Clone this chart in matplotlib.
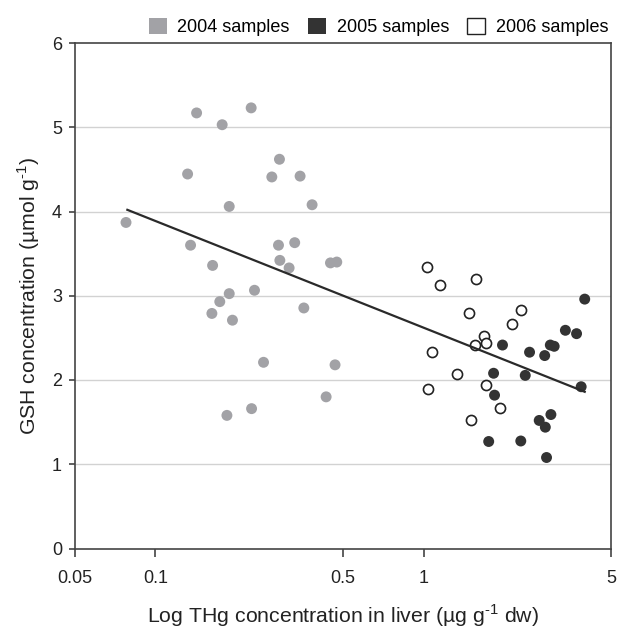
import matplotlib
matplotlib.use("Agg")
import matplotlib.pyplot as plt
from matplotlib.patches import Patch
from matplotlib.ticker import FixedLocator, FixedFormatter, NullLocator

plt.rcParams['font.family'] = ['Liberation Sans', 'DejaVu Sans']
plt.rcParams['mathtext.fontset'] = 'custom'
plt.rcParams['mathtext.rm'] = 'Liberation Sans'

# 2004 samples (gray)
x2004 = [0.1426, 0.1776, 0.2278, 0.2904, 0.132, 0.272, 0.3467, 0.1887, 0.3843, 0.0778,
         0.1354, 0.288, 0.331, 0.1636, 0.2914, 0.3155, 0.450, 0.475, 0.2344, 0.1887,
         0.174, 0.1626, 0.194, 0.358, 0.2533, 0.468, 0.4335, 0.2286, 0.185]
y2004 = [5.17, 5.03, 5.23, 4.62, 4.445, 4.41, 4.42, 4.06, 4.08, 3.87,
         3.60, 3.60, 3.63, 3.36, 3.42, 3.33, 3.39, 3.40, 3.065, 3.025,
         2.93, 2.79, 2.71, 2.855, 2.21, 2.18, 1.80, 1.66, 1.58]

# 2005 samples (dark)
x2005 = [3.99, 3.38, 3.72, 2.97, 3.07, 1.97, 2.485, 2.83, 1.825, 2.395,
         3.87, 1.84, 2.985, 2.70, 2.845, 1.75, 2.305, 2.875]
y2005 = [2.96, 2.59, 2.55, 2.415, 2.40, 2.415, 2.33, 2.29, 2.08, 2.055,
         1.92, 1.82, 1.59, 1.52, 1.44, 1.27, 1.276, 1.08]

# 2006 samples (open)
x2006 = [1.03, 1.149, 1.57, 1.477, 2.30, 2.135, 1.68, 1.705, 1.55, 1.072,
         1.33, 1.036, 1.705, 1.93, 1.50]
y2006 = [3.345, 3.13, 3.20, 2.79, 2.835, 2.66, 2.52, 2.44, 2.42, 2.33,
         2.075, 1.89, 1.94, 1.67, 1.52]

# trend line endpoints
trend_x = [0.0787, 3.99]
trend_y = [4.02, 1.86]

x_ticks = [0.05, 0.1, 0.5, 1, 5]
x_tick_labels = ['0.05', '0.1', '0.5', '1', '5']
y_ticks = [0, 1, 2, 3, 4, 5, 6]

gray = '#a2a2a6'
dark = '#333333'
axis_col = '#444444'
text_col = '#222222'

fig = plt.figure(figsize=(6.22, 6.30), dpi=100)
ax = fig.add_axes([74.5/622, 1-548.5/630, (611-74.5)/622, (548.5-43)/630])

ax.set_xscale('log')
ax.set_xlim(0.05, 5)
ax.set_ylim(0, 6)

for yv in [1, 2, 3, 4, 5]:
    ax.axhline(yv, color='#d2d2d2', lw=1.0, zorder=0)

ms = 62
ax.scatter(x2004, y2004, s=ms, color=gray, edgecolors='none', zorder=3)
ax.scatter(x2005, y2005, s=ms, color=dark, edgecolors='none', zorder=3)
ax.scatter(x2006, y2006, s=ms*0.85, facecolors='white', edgecolors='#222222', linewidths=1.2, zorder=3)
ax.plot(trend_x, trend_y, color='#2a2a2a', lw=1.6, zorder=4)

ax.xaxis.set_major_locator(FixedLocator(x_ticks))
ax.xaxis.set_major_formatter(FixedFormatter(x_tick_labels))
ax.xaxis.set_minor_locator(NullLocator())
ax.set_yticks(y_ticks)

for sp in ax.spines.values():
    sp.set_color(axis_col)
    sp.set_linewidth(1.2)

ax.tick_params(axis='x', direction='out', length=6, width=1.2, color=axis_col,
               labelsize=13, pad=9.5, labelcolor=text_col)
ax.tick_params(axis='y', direction='out', length=4, width=1.2, color=axis_col,
               labelsize=13, pad=5, labelcolor=text_col)

ax.set_xlabel(r'Log THg concentration in liver (µg g$^{\text{-}1}$ dw)', fontsize=15.3,
              color=text_col, labelpad=11)
ax.set_ylabel(r'GSH concentration (µmol g$^{\text{-}1}$)', fontsize=15.3,
              color=text_col, labelpad=7)

handles = [Patch(facecolor=gray, edgecolor='none', label='2004 samples'),
           Patch(facecolor=dark, edgecolor='none', label='2005 samples'),
           Patch(facecolor='white', edgecolor='#222222', linewidth=1.0, label='2006 samples')]
fig.legend(handles=handles, loc='center right', bbox_to_anchor=(0.99, 1-27/630),
           ncol=3, frameon=False, fontsize=13, handlelength=1.0, handleheight=1.0,
           handletextpad=0.6, columnspacing=1.0, borderaxespad=0)

fig.savefig('out.png', dpi=100)
